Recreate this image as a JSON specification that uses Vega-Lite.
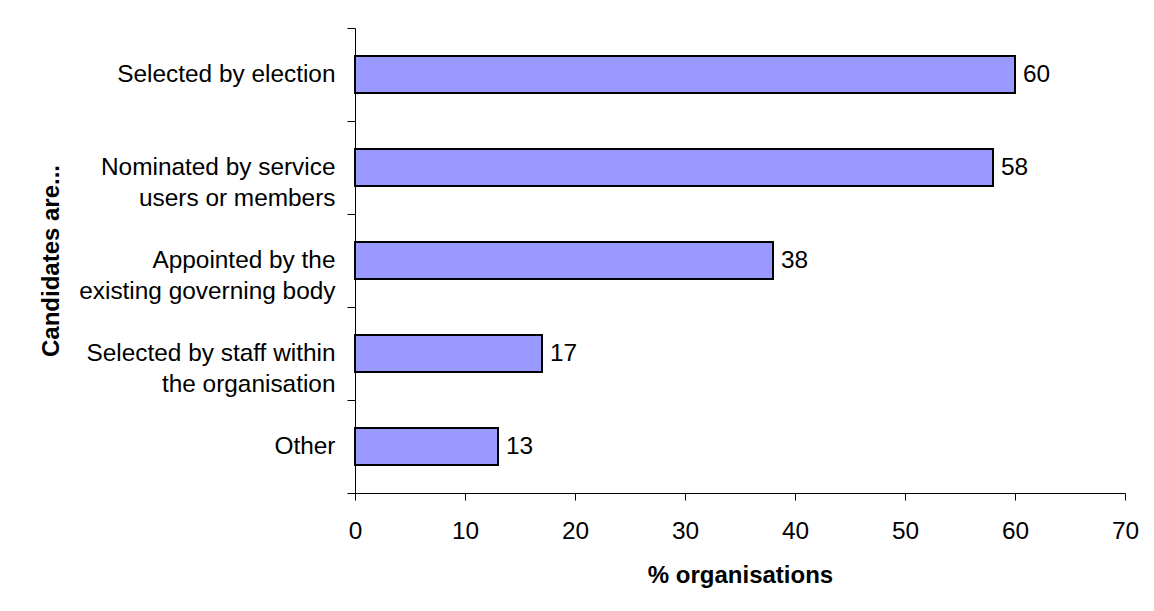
{
  "$schema": "https://vega.github.io/schema/vega-lite/v6.json",
  "autosize": "none",
  "width": 770,
  "height": 465,
  "padding": {"left": 355, "top": 28, "right": 29, "bottom": 118},
  "background": "white",
  "config": {
    "view": {"stroke": null},
    "font": "Liberation Sans"
  },
  "data": {
    "values": [
      {"method": "Selected by election", "pct": 60},
      {"method": "Nominated by service|users or members", "pct": 58},
      {"method": "Appointed by the|existing governing body", "pct": 38},
      {"method": "Selected by staff within|the organisation", "pct": 17},
      {"method": "Other", "pct": 13}
    ]
  },
  "encoding": {
    "y": {
      "field": "method",
      "type": "nominal",
      "sort": null,
      "scale": {"paddingInner": 0, "paddingOuter": 0},
      "axis": {
        "title": "Candidates are...",
        "titleFont": "Liberation Sans",
        "titleFontSize": 24,
        "titleFontWeight": "bold",
        "titleColor": "black",
        "titleAngle": -90,
        "titleX": -304,
        "titleY": 232.5,
        "titleAlign": "center",
        "titleBaseline": "middle",
        "labelExpr": "split(datum.label, '|')",
        "labelFont": "Liberation Sans",
        "labelFontSize": 24.4,
        "labelColor": "black",
        "labelLineHeight": 31,
        "labelAlign": "right",
        "labelBaseline": "middle",
        "labelPadding": 12,
        "labelLimit": 400,
        "tickBand": "extent",
        "tickSize": 8,
        "tickColor": "black",
        "domainColor": "black",
        "grid": false
      }
    },
    "x": {
      "field": "pct",
      "type": "quantitative",
      "scale": {"domain": [0, 70], "nice": false},
      "axis": {
        "title": "% organisations",
        "titleFont": "Liberation Sans",
        "titleFontSize": 24,
        "titleFontWeight": "bold",
        "titleColor": "black",
        "titleY": 82,
        "titleBaseline": "middle",
        "values": [0, 10, 20, 30, 40, 50, 60, 70],
        "labelFont": "Liberation Sans",
        "labelFontSize": 24.4,
        "labelColor": "black",
        "labelPadding": 19,
        "labelFlush": false,
        "tickSize": 7,
        "tickColor": "black",
        "domainColor": "black",
        "grid": false
      }
    }
  },
  "layer": [
    {
      "mark": {"type": "bar", "fill": "#9999FF", "stroke": "black", "strokeWidth": 2, "height": {"band": 0.4}}
    },
    {
      "mark": {"type": "text", "align": "left", "baseline": "middle", "dx": 8, "fontSize": 24.4, "font": "Liberation Sans", "color": "black"},
      "encoding": {"text": {"field": "pct", "type": "quantitative"}}
    }
  ]
}
